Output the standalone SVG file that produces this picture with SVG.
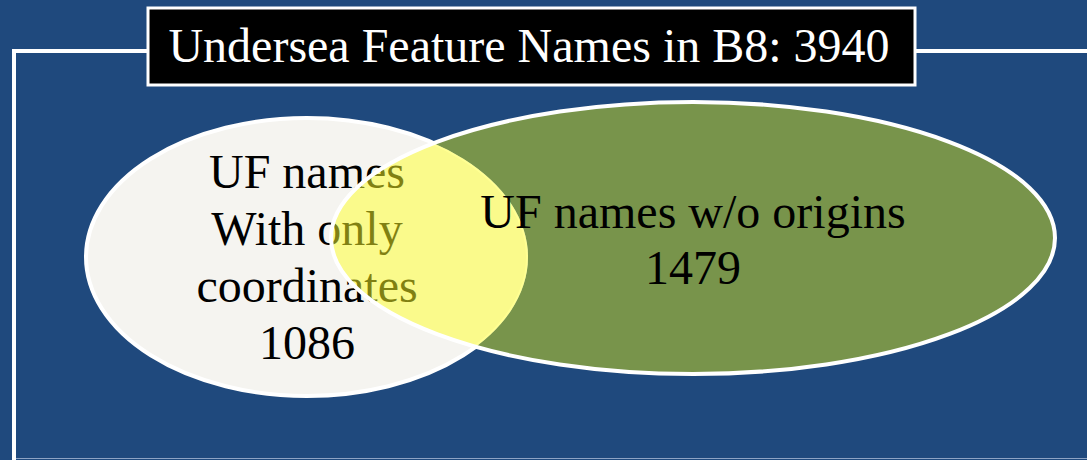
<svg xmlns="http://www.w3.org/2000/svg" width="1087" height="460" viewBox="0 0 1087 460">
<style>
.t{font-family:"Liberation Serif","Times New Roman",serif;text-anchor:middle}
.frame{fill:none;stroke:#FFFFFF;stroke-width:4}
</style>
<defs>
<clipPath id="rightClip"><ellipse cx="693" cy="238" rx="362" ry="136"/></clipPath>
<mask id="notLeft" maskUnits="userSpaceOnUse" x="0" y="0" width="1087" height="460">
<rect width="1087" height="460" fill="#FFFFFF"/>
<ellipse cx="307" cy="257" rx="221" ry="139" fill="#000000"/>
</mask>
</defs>
<rect width="1087" height="460" fill="#1F497D"/>
<g id="frame">
<path class="frame" d="M148 51 H14 V460"/>
<path class="frame" d="M915 51 H1087"/>
<line x1="16" y1="458.5" x2="1087" y2="458.5" stroke="#8DA3C4" stroke-width="1"/>
</g>
<g id="title">
<rect x="148" y="8" width="767" height="77" fill="#000000" stroke="#FFFFFF" stroke-width="3"/>
<text class="t" x="529" y="62" font-size="48" fill="#FFFFFF">Undersea Feature Names in B8: 3940</text>
</g>
<g id="left">
<ellipse cx="307" cy="257" rx="221" ry="139" fill="#F5F4F0" stroke="#FFFFFF" stroke-width="4"/>
<text class="t" x="307" y="188" font-size="48" fill="#000000">UF names</text>
<text class="t" x="307" y="245" font-size="48" fill="#000000">With only</text>
<text class="t" x="307" y="302" font-size="48" fill="#000000">coordinates</text>
<text class="t" x="307" y="359" font-size="48" fill="#000000">1086</text>
</g>
<g id="right">
<ellipse cx="693" cy="238" rx="362" ry="136" fill="#78944B" mask="url(#notLeft)"/>
<ellipse cx="307" cy="257" rx="221" ry="139" fill="#FFFF26" fill-opacity="0.5" clip-path="url(#rightClip)"/>
<ellipse cx="693" cy="238" rx="362" ry="136" fill="none" stroke="#FFFFFF" stroke-width="4"/>
<text class="t" x="693" y="228" font-size="48" fill="#000000">UF names w/o origins</text>
<text class="t" x="693" y="284" font-size="48" fill="#000000">1479</text>
</g>
<g id="connectors"/>
</svg>
